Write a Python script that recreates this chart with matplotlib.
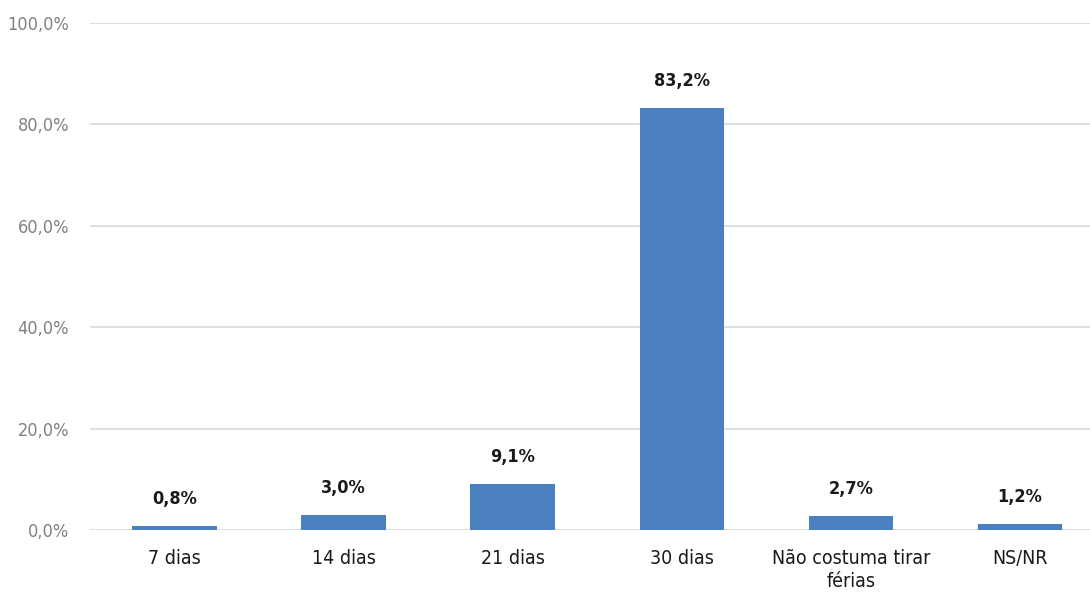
import matplotlib
matplotlib.use("Agg")
import matplotlib.pyplot as plt

categorias = ["7 dias", "14 dias", "21 dias", "30 dias", "Não costuma tirar\nférias", "NS/NR"]
valores = [0.8, 3.0, 9.1, 83.2, 2.7, 1.2]
rotulos = ["0,8%", "3,0%", "9,1%", "83,2%", "2,7%", "1,2%"]
yticks = [0, 20, 40, 60, 80, 100]
ytick_labels = ["0,0%", "20,0%", "40,0%", "60,0%", "80,0%", "100,0%"]

plt.rcParams['font.family'] = ['DejaVu Sans']
plt.rcParams['font.stretch'] = 'condensed'

fig = plt.figure(figsize=(10.9, 5.95), dpi=100)
ax = fig.add_axes([90 / 1090, 65 / 595, 1014.6 / 1090, 507 / 595])

x = range(len(categorias))
ax.bar(x, valores, width=0.5, color="#4a7fc0", zorder=3)

for xi, v, r in zip(x, valores, rotulos):
    ax.annotate(r, (xi, v), xytext=(0, 13), textcoords="offset points",
                ha="center", va="bottom", fontsize=13, fontweight="bold", color="#1a1a1a")

ax.set_xlim(-0.5, len(categorias) - 0.5)
ax.set_ylim(0, 100)
ax.set_yticks(yticks)
ax.set_yticklabels(ytick_labels, fontsize=13, color="#808080")
ax.set_xticks(list(x))
ax.set_xticklabels(categorias, fontsize=14, color="#1a1a1a", linespacing=1.25)

ax.grid(axis="y", color="#d9d9d9", linewidth=1.2, zorder=0)
ax.tick_params(axis="both", length=0)
ax.tick_params(axis="y", pad=15)
ax.tick_params(axis="x", pad=14)
for s in ax.spines.values():
    s.set_visible(False)

fig.savefig("out.png", dpi=100)
